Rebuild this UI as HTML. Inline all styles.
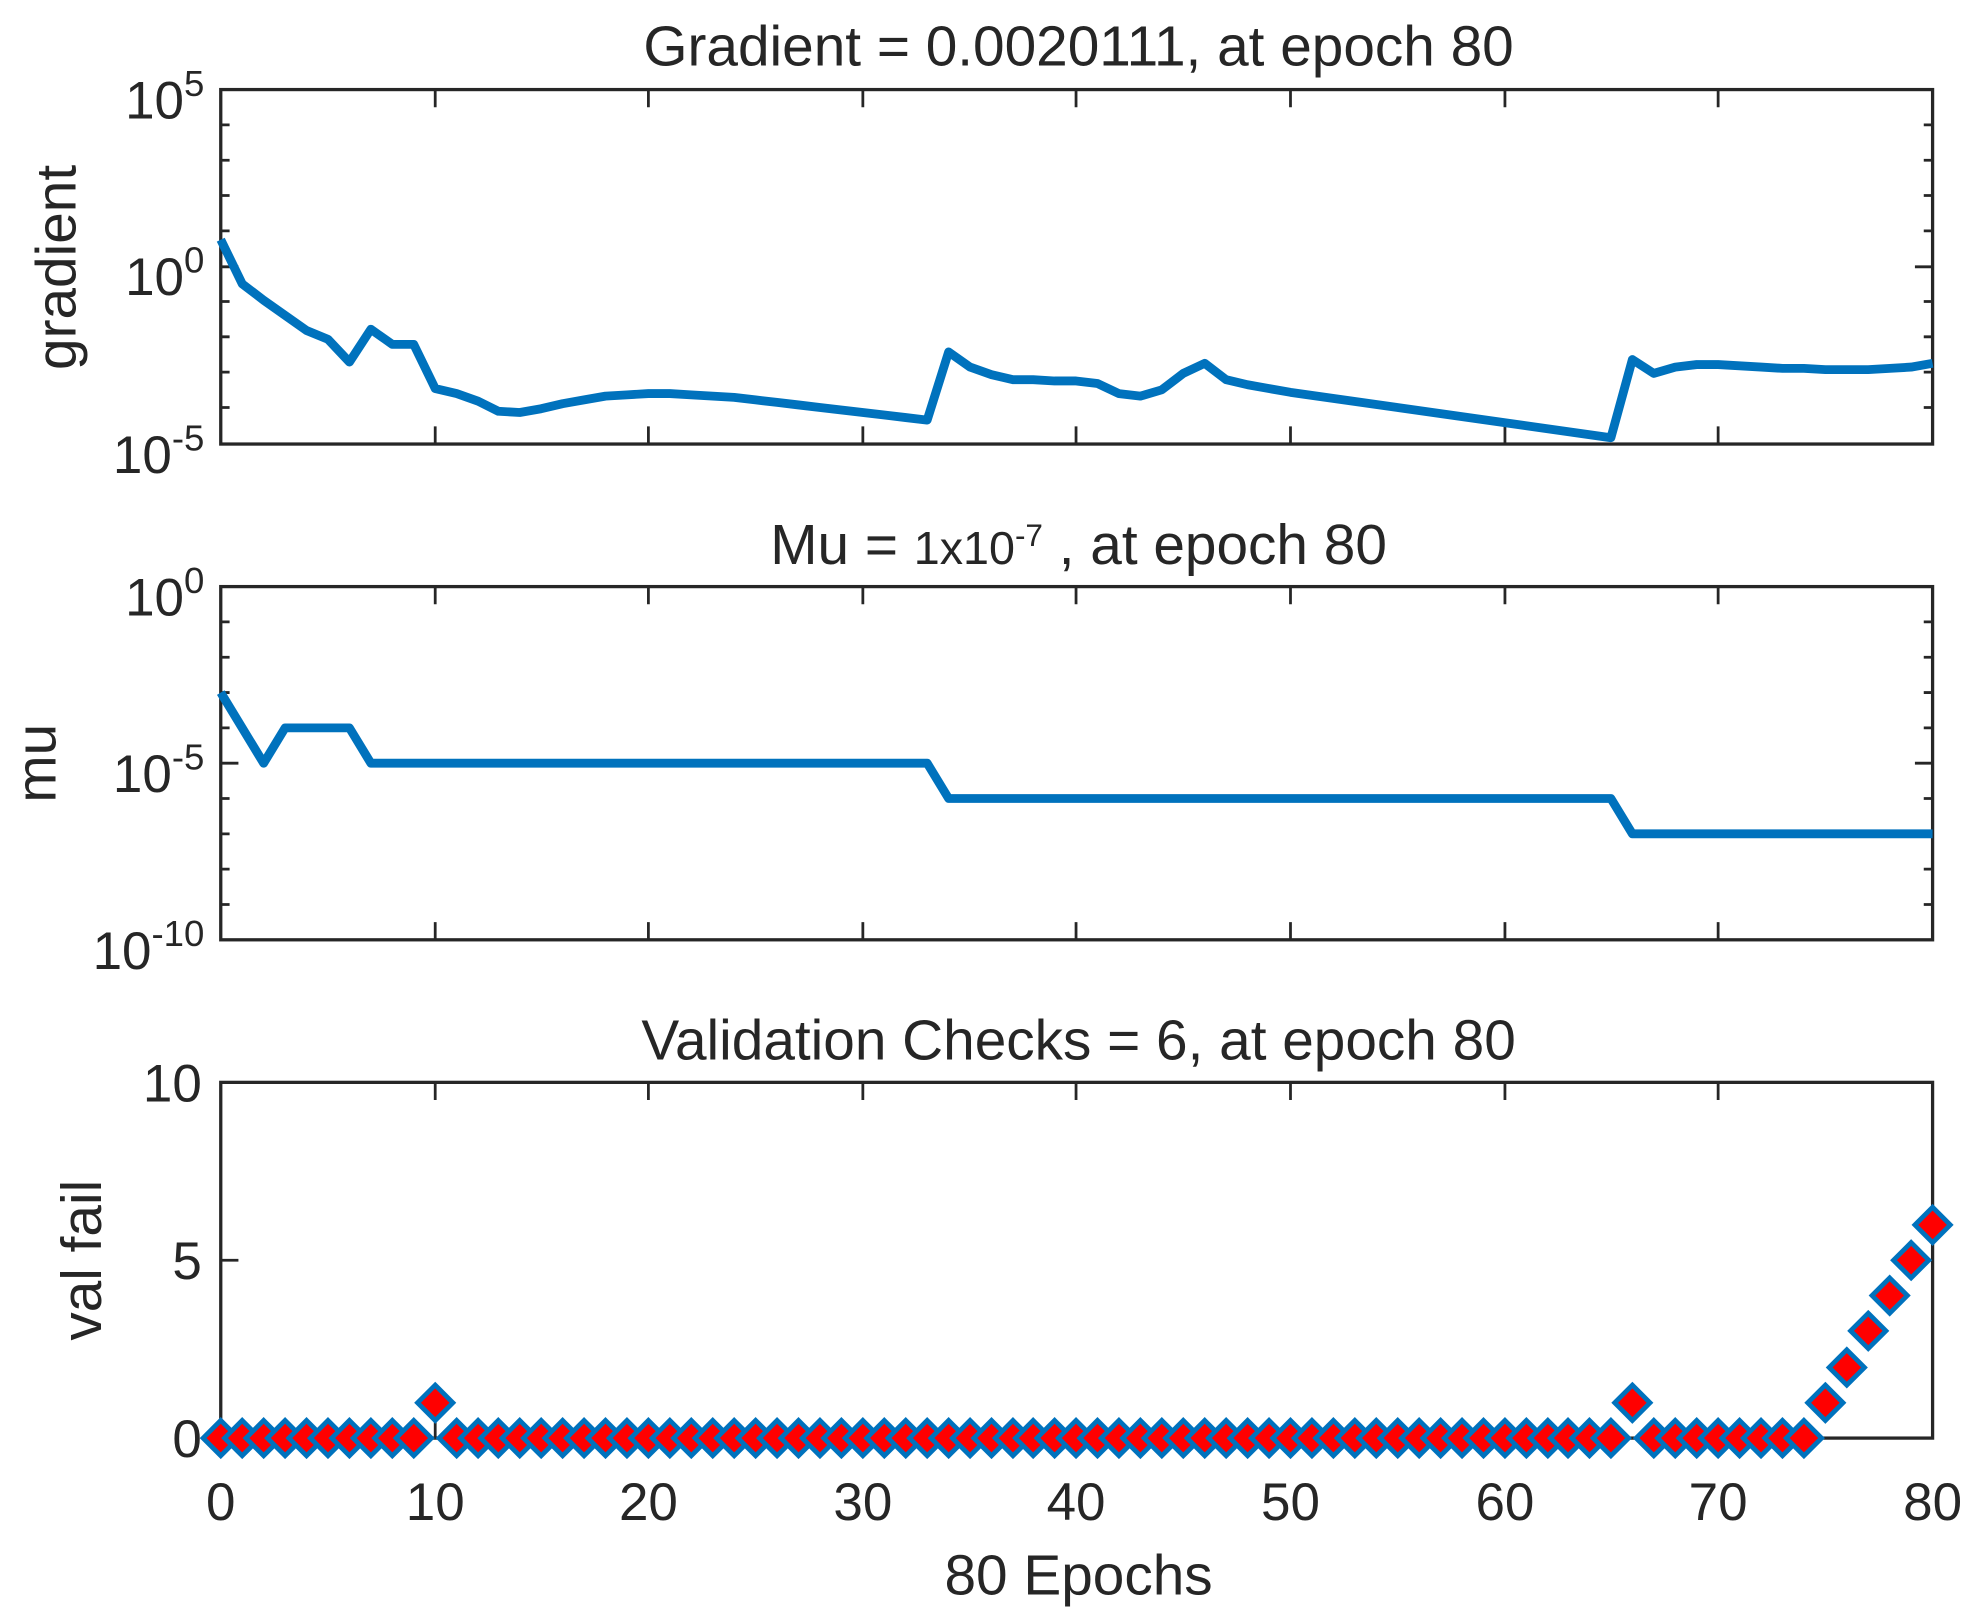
<!DOCTYPE html>
<html><head><meta charset="utf-8"><style>
html,body{margin:0;padding:0;background:#fff;}
svg{display:block;}
text{font-family:"Liberation Sans",Arial,sans-serif;fill:#262626;}
</style></head><body>
<svg width="1978" height="1620" viewBox="0 0 1568 1284.2" xmlns="http://www.w3.org/2000/svg">
<defs>
<marker id="dm" markerUnits="userSpaceOnUse" markerWidth="32" markerHeight="32" refX="16" refY="16" overflow="visible">
<path d="M16 2 L30 16 L16 30 L2 16 Z" fill="#ff0000" stroke="#0072bd" stroke-width="3.8"/>
</marker>
</defs>
<g fill="none" stroke="#262626" stroke-width="2.6">
<rect x="175" y="71" width="1357" height="281"/>
<rect x="175" y="465" width="1357" height="280"/>
<rect x="175" y="858" width="1357" height="282"/>
</g>
<g stroke="#262626" stroke-width="2.2">
<path d="M345 71v14M514 71v14M684 71v14M853 71v14M1023 71v14M1193 71v14M1362 71v14M345 352v-14M514 352v-14M684 352v-14M853 352v-14M1023 352v-14M1193 352v-14M1362 352v-14"/>
<path d="M345 465v14M514 465v14M684 465v14M853 465v14M1023 465v14M1193 465v14M1362 465v14M345 745v-14M514 745v-14M684 745v-14M853 745v-14M1023 745v-14M1193 745v-14M1362 745v-14"/>
<path d="M345 858v14M514 858v14M684 858v14M853 858v14M1023 858v14M1193 858v14M1362 858v14M345 1140v-14M514 1140v-14M684 1140v-14M853 1140v-14M1023 1140v-14M1193 1140v-14M1362 1140v-14"/>
<path d="M175 99h7M175 127h7M175 155h7M175 183h7M175 211.5h14M175 239h7M175 267h7M175 295h7M175 323h7M1532 99h-7M1532 127h-7M1532 155h-7M1532 183h-7M1532 211.5h-14M1532 239h-7M1532 267h-7M1532 295h-7M1532 323h-7"/>
<path d="M175 493h7M175 521h7M175 549h7M175 577h7M175 605h14M175 633h7M175 661h7M175 689h7M175 717h7M1532 493h-7M1532 521h-7M1532 549h-7M1532 577h-7M1532 605h-14M1532 633h-7M1532 661h-7M1532 689h-7M1532 717h-7"/>
<path d="M175 999h14M1532 999h-14"/>
</g>
<polyline fill="none" stroke="#0072bd" stroke-width="7" stroke-linejoin="round" points="175,190 192,225 209,238 226,250 243,262 260,269 277,287 294,261 311,273 328,273 345,308 362,312 379,318 395,326 412,327 429,324 446,320 463,317 480,314 497,313 514,312 531,312 548,313 565,314 582,315 599,317 616,319 633,321 650,323 667,325 684,327 701,329 718,331 735,333 752,279 769,291 786,297 803,301 819,301 836,302 853,302 870,304 887,312 904,314 921,309 938,296 955,288 972,301 989,305 1006,308 1023,311 1277,347 1294,285 1311,296 1328,291 1345,289 1362,289 1379,290 1396,291 1413,292 1430,292 1447,293 1464,293 1481,293 1498,292 1515,291 1532,288"/>
<polyline fill="none" stroke="#0072bd" stroke-width="7" stroke-linejoin="round" points="175,549 209,605 226,577 277,577 294,605 735,605 752,633 1277,633 1294,661 1532,661"/>
<polyline fill="none" stroke="none" marker-start="url(#dm)" marker-mid="url(#dm)" marker-end="url(#dm)" points="175,1140 192,1140 209,1140 226,1140 243,1140 260,1140 277,1140 294,1140 311,1140 328,1140 345,1112 362,1140 379,1140 395,1140 412,1140 429,1140 446,1140 463,1140 480,1140 497,1140 514,1140 531,1140 548,1140 565,1140 582,1140 599,1140 616,1140 633,1140 650,1140 667,1140 684,1140 701,1140 718,1140 735,1140 752,1140 769,1140 786,1140 803,1140 819,1140 836,1140 853,1140 870,1140 887,1140 904,1140 921,1140 938,1140 955,1140 972,1140 989,1140 1006,1140 1023,1140 1040,1140 1057,1140 1074,1140 1091,1140 1108,1140 1125,1140 1142,1140 1159,1140 1176,1140 1193,1140 1210,1140 1227,1140 1243,1140 1260,1140 1277,1140 1294,1112 1311,1140 1328,1140 1345,1140 1362,1140 1379,1140 1396,1140 1413,1140 1430,1140 1447,1112 1464,1084 1481,1055 1498,1027 1515,999 1532,971"/>
<g font-size="45" text-anchor="middle">
<text x="855" y="52">Gradient = 0.0020111, at epoch 80</text>
<text x="855" y="447">Mu = <tspan font-size="37">1x10</tspan><tspan font-size="25" dy="-14">-7</tspan><tspan dy="14"> , at epoch 80</tspan></text>
<text x="855" y="840">Validation Checks = 6, at epoch 80</text>
<text x="855" y="1264">80 Epochs</text>
</g>
<g font-size="45" text-anchor="middle">
<text transform="translate(60,212) rotate(-90)">gradient</text>
<text transform="translate(44,605) rotate(-90)">mu</text>
<text transform="translate(80,999) rotate(-90)">val fail</text>
</g>
<g font-size="42" text-anchor="end">
<text x="162" y="94">10<tspan font-size="29" dy="-18">5</tspan></text>
<text x="162" y="234">10<tspan font-size="29" dy="-18">0</tspan></text>
<text x="162" y="375">10<tspan font-size="29" dy="-18">-5</tspan></text>
<text x="162" y="488">10<tspan font-size="29" dy="-18">0</tspan></text>
<text x="162" y="628">10<tspan font-size="29" dy="-18">-5</tspan></text>
<text x="162" y="768">10<tspan font-size="29" dy="-18">-10</tspan></text>
<text x="160" y="873">10</text>
<text x="160" y="1014">5</text>
<text x="160" y="1155">0</text>
</g>
<g font-size="42" text-anchor="middle">
<text x="175" y="1205">0</text><text x="345" y="1205">10</text><text x="514" y="1205">20</text><text x="684" y="1205">30</text><text x="853" y="1205">40</text><text x="1023" y="1205">50</text><text x="1193" y="1205">60</text><text x="1362" y="1205">70</text><text x="1532" y="1205">80</text>
</g>
</svg>
</body></html>
